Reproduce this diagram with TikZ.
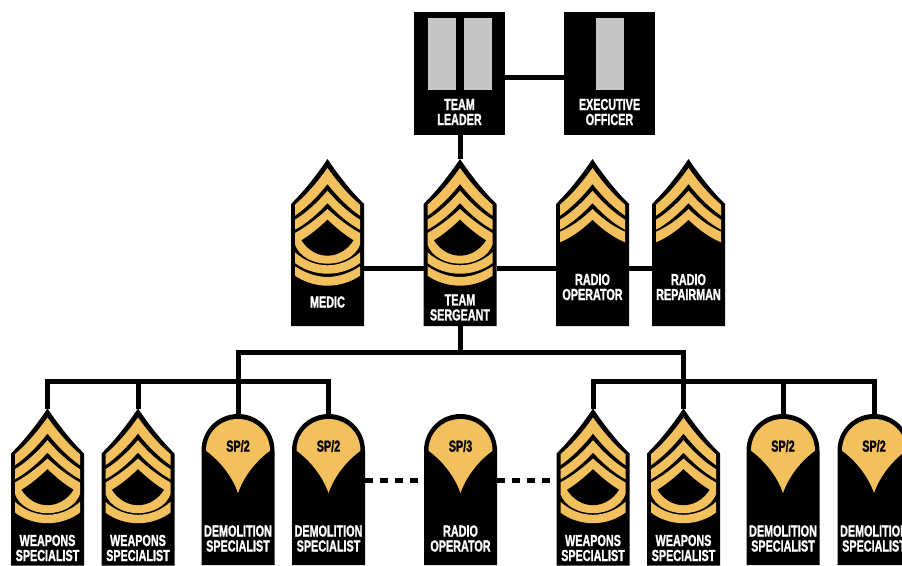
\documentclass[tikz,border=0pt]{standalone}
\usepackage{fontspec}
\newfontfamily\rankfamily{Liberation Sans}[FakeStretch=0.675,BoldFeatures={FakeBold=1.2}]
\newcommand{\rankfont}{\rankfamily\bfseries\fontsize{16}{15}\selectfont}
\definecolor{gold}{HTML}{F2C05C}
\definecolor{silver}{HTML}{C6C6C6}
% one bent stripe: outer apex, side top, side bottom, inner apex
\newcommand{\chevronstripe}[4]{
  \fill[gold] (0,#1) .. controls (-10.8,{#1+(#2-#1)/3+3}) and (-21.7,{#1+2*(#2-#1)/3+3}) .. (-32.5,#2) -- (-32.5,#3)
    .. controls (-21.7,{#4+2*(#3-#4)/3+3}) and (-10.8,{#4+(#3-#4)/3+3}) .. (0,#4)
    .. controls (10.8,{#4+(#3-#4)/3+3}) and (21.7,{#4+2*(#3-#4)/3+3}) .. (32.5,#3) -- (32.5,#2)
    .. controls (21.7,{#1+2*(#2-#1)/3+3}) and (10.8,{#1+(#2-#1)/3+3}) .. cycle;
}
% one curved stripe: side top, centre top, side bottom, centre bottom
\newcommand{\rockerstripe}[4]{
  \fill[gold] (-32.5,#1) .. controls (-24,{#2-5}) and (-12,#2) .. (0,#2)
    .. controls (12,#2) and (24,{#2-5}) .. (32.5,#1) -- (32.5,#3)
    .. controls (24,{#4-4}) and (12,#4) .. (0,#4)
    .. controls (-12,#4) and (-24,{#4-4}) .. (-32.5,#3) -- cycle;
}
\newcommand{\chevronback}[1]{
  \fill (0,0) .. controls (-12.2,18) and (-24.3,33) .. (-36.5,45) -- (-36.5,#1) -- (36.5,#1) -- (36.5,45)
    .. controls (24.3,33) and (12.2,18) .. cycle;
  \chevronstripe{9}{45.7}{56.7}{25}
  \chevronstripe{31.7}{60.7}{70.7}{44}
}
\newcommand{\crescent}{
  \fill[gold] (0,50) .. controls (-10.8,60) and (-21.7,68) .. (-32.5,74) -- (-32.5,85.7)
    .. controls (-28,98) and (-14,104.7) .. (0,104.7)
    .. controls (14,104.7) and (28,98) .. (32.5,85.7) -- (32.5,74)
    .. controls (21.7,68) and (10.8,60) .. cycle;
  \fill (0,60.7) .. controls (-8.7,69) and (-17.3,76) .. (-26,81.3) .. controls (-20,91) and (-10,96.7) .. (0,96.7)
    .. controls (10,96.7) and (20,91) .. (26,81.3) .. controls (17.3,76) and (8.7,69) .. cycle;
}
\tikzset{
  slot/.style={minimum width=73,minimum height=#1,inner sep=0,outer sep=0,anchor=north},
  conn/.style={line width=5pt},
  dots/.style={line width=5pt,dash pattern=on 8pt off 7pt},
  lbl/.style={text=white,font=\rankfont,align=center,inner sep=0},
  sp/.style={text=black,font=\rankfont,inner sep=0},
  pics/threebars/.style={code={
    \chevronback{#1}
    \chevronstripe{50}{72.7}{83.3}{60.7}
  }},
  pics/onerocker/.style={code={
    \chevronback{#1}
    \crescent
    \rockerstripe{93.3}{106.3}{104}{114.7}
  }},
  pics/tworockers/.style={code={
    \chevronback{#1}
    \crescent
    \rockerstripe{93.3}{106.3}{104}{114.7}
    \rockerstripe{107.3}{118}{116.7}{126.7}
  }},
  pics/round/.style={code={
    \fill (-36.5,#1) -- (-36.5,36.5) .. controls (-36.5,16.3) and (-20.2,0) .. (0,0)
      .. controls (20.2,0) and (36.5,16.3) .. (36.5,36.5) -- (36.5,#1) -- cycle;
    \fill[gold] (0,5) .. controls (-18,5) and (-32,19) .. (-32,36.7)
      .. controls (-18,47) and (-6,62) .. (0,79)
      .. controls (6,62) and (18,47) .. (32,36.7)
      .. controls (32,19) and (18,5) .. cycle;
  }},
}
\begin{document}
\begin{tikzpicture}[x=1pt,y=-1pt]
\path[use as bounding box,clip] (0,0) rectangle (902,565);
\coordinate (barrow) at (0,77.5);
\coordinate (midrow) at (0,268);
\coordinate (topbus) at (0,352);
\coordinate (lowbus) at (0,381);
\coordinate (dashrow) at (0,480);
% officers
\node[fill=black,minimum width=91,minimum height=122.5,inner sep=0,anchor=north] (leader) at (459.5,12) {};
\node[fill=black,minimum width=91,minimum height=122.5,inner sep=0,anchor=north] (exec) at (609.5,12) {};
\fill[silver] (428,18) rectangle (456,90);
\fill[silver] (464,18) rectangle (492,90);
\fill[silver] (596,18) rectangle (624,90);
\node[lbl] (leadertext) at (459.5,112) {TEAM\\LEADER};
\node[lbl] (exectext) at (609.5,112) {EXECUTIVE\\OFFICER};
% middle row
\node[slot=167] (medic) at (327.5,159) {};
\node[slot=167] (sergeant) at (460,159) {};
\node[slot=167] (radioop) at (592.5,159) {};
\node[slot=167] (repair) at (688.5,159) {};
\pic at (medic.north) {tworockers=167};
\pic at (sergeant.north) {tworockers=167};
\pic at (radioop.north) {threebars=167};
\pic at (repair.north) {threebars=167};
\node[lbl] (medictext) at (327.5,302) {MEDIC};
\node[lbl] (sergeanttext) at (460,307.5) {TEAM\\SERGEANT};
\node[lbl] (radiooptext) at (592.5,287) {RADIO\\OPERATOR};
\node[lbl] (repairtext) at (688.5,287) {RADIO\\REPAIRMAN};
% bottom row
\node[slot=157] (weapa) at (47.5,408.5) {};
\node[slot=157] (weapb) at (138,408.5) {};
\node[slot=151] (demoa) at (238,414) {};
\node[slot=151] (demob) at (328.5,414) {};
\node[slot=151] (radiosp) at (460.5,414) {};
\node[slot=157] (weapc) at (593,408.5) {};
\node[slot=157] (weapd) at (683.5,408.5) {};
\node[slot=151] (democ) at (783,414) {};
\node[slot=151] (demod) at (874,414) {};
\pic at (weapa.north) {onerocker=157};
\pic at (weapb.north) {onerocker=157};
\pic at (demoa.north) {round=151};
\pic at (demob.north) {round=151};
\pic at (radiosp.north) {round=151};
\pic at (weapc.north) {onerocker=157};
\pic at (weapd.north) {onerocker=157};
\pic at (democ.north) {round=151};
\pic at (demod.north) {round=151};
\node[sp] (spa) at (238,446) {SP/2};
\node[sp] (spb) at (328.5,446) {SP/2};
\node[sp] (spc) at (460.5,446) {SP/3};
\node[sp] (spd) at (783,446) {SP/2};
\node[sp] (spe) at (874,446) {SP/2};
\node[lbl] (weapatext) at (47.5,548) {WEAPONS\\SPECIALIST};
\node[lbl] (weapbtext) at (138,548) {WEAPONS\\SPECIALIST};
\node[lbl] (demoatext) at (238,538.5) {DEMOLITION\\SPECIALIST};
\node[lbl] (demobtext) at (328.5,538.5) {DEMOLITION\\SPECIALIST};
\node[lbl] (radiosptext) at (460.5,538.5) {RADIO\\OPERATOR};
\node[lbl] (weapctext) at (593,548) {WEAPONS\\SPECIALIST};
\node[lbl] (weapdtext) at (683.5,548) {WEAPONS\\SPECIALIST};
\node[lbl] (democtext) at (783,538.5) {DEMOLITION\\SPECIALIST};
\node[lbl] (demodtext) at (874,538.5) {DEMOLITION\\SPECIALIST};
% connectors
\draw[conn] (leader.east |- barrow) -- (exec.west |- barrow);
\draw[conn] (sergeant.north |- leader.south) -- (sergeant.north);
\draw[conn] (medic.east |- midrow) -- (sergeant.west |- midrow);
\draw[conn] (sergeant.east |- midrow) -- (radioop.west |- midrow);
\draw[conn] (radioop.east |- midrow) -- (repair.west |- midrow);
\draw[conn] (sergeant.south) -- (sergeant.south |- topbus);
\draw[conn] (demoa.north) -- (demoa.north |- topbus) -- (weapd.north |- topbus) -- (weapd.north);
\draw[conn] (weapa.north) -- (weapa.north |- lowbus) -- (demob.north |- lowbus) -- (demob.north);
\draw[conn] (weapb.north) -- (weapb.north |- lowbus);
\draw[conn] (weapc.north) -- (weapc.north |- lowbus) -- (demod.north |- lowbus) -- (demod.north);
\draw[conn] (democ.north) -- (democ.north |- lowbus);
\draw[dots] (demob.east |- dashrow) -- (radiosp.west |- dashrow);
\draw[dots] (radiosp.east |- dashrow) -- (weapc.west |- dashrow);
\end{tikzpicture}
\end{document}
